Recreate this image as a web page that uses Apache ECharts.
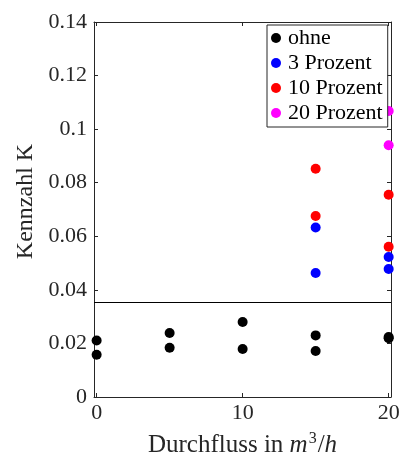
<!DOCTYPE html>
<html>
<head>
<meta charset="utf-8">
<script src="https://cdn.jsdelivr.net/npm/echarts@6/dist/echarts.min.js"></script>
<style>
  html, body { margin: 0; padding: 0; background: #fff; }
  #chart { width: 406px; height: 457px; }
</style>
</head>
<body>
<div id="chart"></div>
<script>
// Measured coefficient K against flow rate, grouped by additive share
const seriesNames = ['ohne', '3 Prozent', '10 Prozent', '20 Prozent'];
const seriesColors = ['#000000', '#0000ff', '#ff0000', '#ff00ff'];

const ohneX = [0, 0, 5, 5, 10, 10, 15, 15, 20, 20];
const ohneY = [0.0211, 0.0158, 0.0239, 0.0184, 0.0280, 0.0179, 0.0230, 0.0172, 0.0224, 0.0219];

const p3X = [15, 15, 20, 20];
const p3Y = [0.0633, 0.0463, 0.0523, 0.0478];

const p10X = [15, 15, 20, 20];
const p10Y = [0.0852, 0.0676, 0.0755, 0.0561];

const p20X = [20, 20];
const p20Y = [0.1068, 0.0940];

// Reference level drawn as a horizontal line
const thresholdK = 0.0355;

const xTicks = [0, 10, 20];

const FONT = '"Liberation Serif", "DejaVu Serif", serif';
const TXT = '#262626';

function pairs(xs, ys) { return xs.map((x, i) => [x, ys[i]]); }

const groups = [pairs(ohneX, ohneY), pairs(p3X, p3Y), pairs(p10X, p10Y), pairs(p20X, p20Y)];

const chart = echarts.init(document.getElementById('chart'), null, { renderer: 'canvas' });

const axisLine = { show: true, onZero: false, lineStyle: { color: TXT, width: 1 } };

const series = groups.map((data, i) => ({
  name: seriesNames[i],
  type: 'scatter',
  data: data,
  symbol: 'circle',
  symbolSize: 10,
  itemStyle: { color: seriesColors[i], opacity: 1 },
  emphasis: { disabled: true },
  silent: true
}));

series[0].markLine = {
  silent: true,
  precision: 4,
  symbol: ['none', 'none'],
  label: { show: false },
  lineStyle: { color: '#000', width: 1.2, type: 'solid' },
  data: [{ yAxis: thresholdK }]
};

chart.setOption({
  animation: false,
  backgroundColor: '#fff',
  textStyle: { fontFamily: FONT, color: TXT },
  grid: { left: 94, right: 15, top: 22, bottom: 60, containLabel: false, outerBoundsMode: 'none' },
  legend: {
    orient: 'vertical',
    left: 267,
    top: 25,
    data: seriesNames,
    icon: 'circle',
    itemWidth: 14,
    itemHeight: 10,
    itemGap: 3,
    padding: [2, 5, 3, 4],
    backgroundColor: '#fff',
    borderColor: '#262626',
    borderWidth: 1,
    borderRadius: 0,
    textStyle: { fontFamily: FONT, fontSize: 22, color: '#000' },
    selectedMode: false
  },
  xAxis: [{
    type: 'value',
    min: -0.18,
    max: 20.16,
    position: 'bottom',
    splitLine: { show: false },
    axisLine: axisLine,
    axisTick: { show: true, inside: true, length: 4, customValues: xTicks, lineStyle: { color: TXT } },
    axisLabel: { customValues: xTicks, fontFamily: FONT, fontSize: 22, color: TXT, margin: 5 },
    name: '{n|Durchfluss in }{i|m}{s|3}{n|/}{i|h}',
    nameLocation: 'middle',
    nameGap: 34,
    nameTextStyle: {
      rich: {
        n: { fontFamily: FONT, fontSize: 25, color: TXT },
        i: { fontFamily: FONT, fontSize: 25, fontStyle: 'italic', color: TXT },
        s: { fontFamily: FONT, fontSize: 16, color: TXT, padding: [0, 1, 12, 1] }
      }
    }
  }, {
    type: 'value',
    min: -0.18,
    max: 20.16,
    position: 'top',
    splitLine: { show: false },
    axisLine: axisLine,
    axisTick: { show: true, inside: true, length: 4, customValues: xTicks, lineStyle: { color: TXT } },
    axisLabel: { show: false }
  }],
  yAxis: [{
    type: 'value',
    min: 0,
    max: 0.14,
    interval: 0.02,
    position: 'left',
    splitLine: { show: false },
    axisLine: axisLine,
    axisTick: { show: true, inside: true, length: 4, lineStyle: { color: TXT } },
    axisLabel: {
      fontFamily: FONT, fontSize: 22, color: TXT, margin: 7,
      formatter: v => String(+v.toFixed(2))
    },
    name: 'Kennzahl K',
    nameLocation: 'middle',
    nameGap: 56,
    nameTextStyle: { fontFamily: FONT, fontSize: 24, color: TXT, padding: [0, 0, 0, 16] }
  }, {
    type: 'value',
    min: 0,
    max: 0.14,
    interval: 0.02,
    position: 'right',
    splitLine: { show: false },
    axisLine: axisLine,
    axisTick: { show: true, inside: true, length: 4, lineStyle: { color: TXT } },
    axisLabel: { show: false }
  }],
  series: series
});
</script>
</body>
</html>
